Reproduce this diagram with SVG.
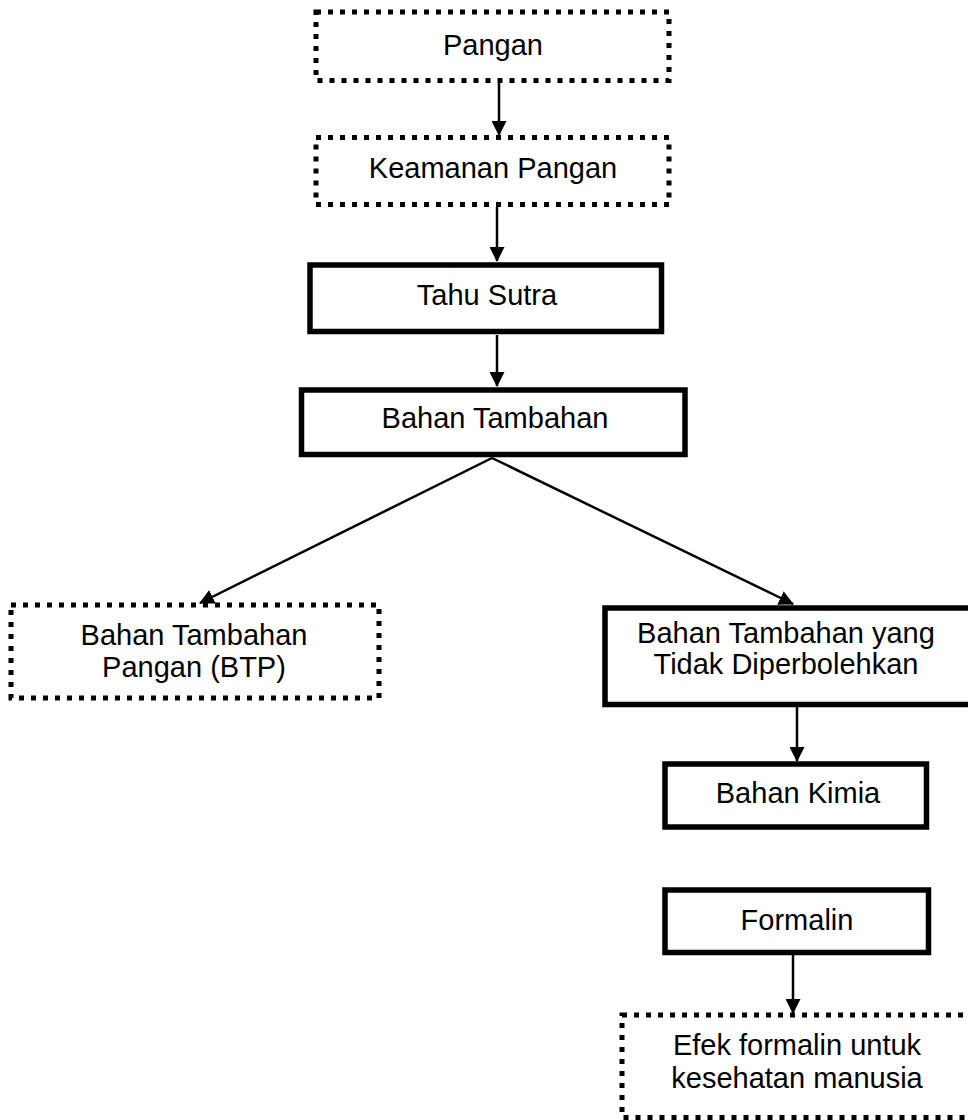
<svg xmlns="http://www.w3.org/2000/svg" width="968" height="1120" viewBox="0 0 968 1120">
<defs>
<marker id="ah" markerUnits="userSpaceOnUse" markerWidth="15" markerHeight="15" viewBox="0 0 15 15" refX="14" refY="7.5" orient="auto">
<path d="M0,0 L15,7.5 L0,15 z" fill="#000"/>
</marker>
<style>
.dot{fill:#fff;stroke:#000;stroke-width:5;stroke-dasharray:5 7}
.sol{fill:#fff;stroke:#000;stroke-width:5.5}
.lbl{font-family:"Liberation Sans",Arial,sans-serif;font-size:29px;fill:#000;text-anchor:middle}
.con{stroke:#000;stroke-width:2.5;fill:none}
</style>
</defs>
<rect width="968" height="1120" fill="#fff"/>
<g id="connectors">
<line class="con" x1="499" y1="83" x2="499" y2="135" marker-end="url(#ah)"/>
<line class="con" x1="497" y1="207" x2="497" y2="261" marker-end="url(#ah)"/>
<line class="con" x1="497" y1="335" x2="497" y2="386" marker-end="url(#ah)"/>
<line class="con" x1="492" y1="458" x2="200" y2="603" marker-end="url(#ah)"/>
<line class="con" x1="492" y1="458" x2="793" y2="604" marker-end="url(#ah)"/>
<line class="con" x1="797" y1="707" x2="797" y2="761" marker-end="url(#ah)"/>
<line class="con" x1="793" y1="955" x2="793" y2="1013" marker-end="url(#ah)"/>
</g>
<g id="node-pangan">
<rect class="dot" x="316" y="12" width="353" height="68.5"/>
<text class="lbl" x="493" y="55">Pangan</text>
</g>
<g id="node-keamanan">
<rect class="dot" x="316" y="137.5" width="353" height="67"/>
<text class="lbl" x="493" y="178">Keamanan Pangan</text>
</g>
<g id="node-tahu">
<rect class="sol" x="310" y="265" width="351.5" height="66.5"/>
<text class="lbl" x="487" y="305">Tahu Sutra</text>
</g>
<g id="node-bahan-tambahan">
<rect class="sol" x="301.5" y="390" width="383.5" height="64.5"/>
<text class="lbl" x="495" y="428">Bahan Tambahan</text>
</g>
<g id="node-btp">
<rect class="dot" x="11" y="605" width="368" height="93"/>
<text class="lbl" x="194" y="645">Bahan Tambahan</text>
<text class="lbl" x="194" y="677">Pangan (BTP)</text>
</g>
<g id="node-tidak">
<rect class="sol" x="605" y="608" width="370" height="96.5"/>
<text class="lbl" x="786" y="643">Bahan Tambahan yang</text>
<text class="lbl" x="786" y="674">Tidak Diperbolehkan</text>
</g>
<g id="node-kimia">
<rect class="sol" x="665" y="764" width="261.5" height="63"/>
<text class="lbl" x="798" y="803">Bahan Kimia</text>
</g>
<g id="node-formalin">
<rect class="sol" x="665" y="890" width="263.5" height="62.5"/>
<text class="lbl" x="797" y="930">Formalin</text>
</g>
<g id="node-efek">
<rect class="dot" x="622" y="1015" width="360" height="102.5"/>
<text class="lbl" x="797" y="1055">Efek formalin untuk</text>
<text class="lbl" x="797" y="1088">kesehatan manusia</text>
</g>
</svg>
